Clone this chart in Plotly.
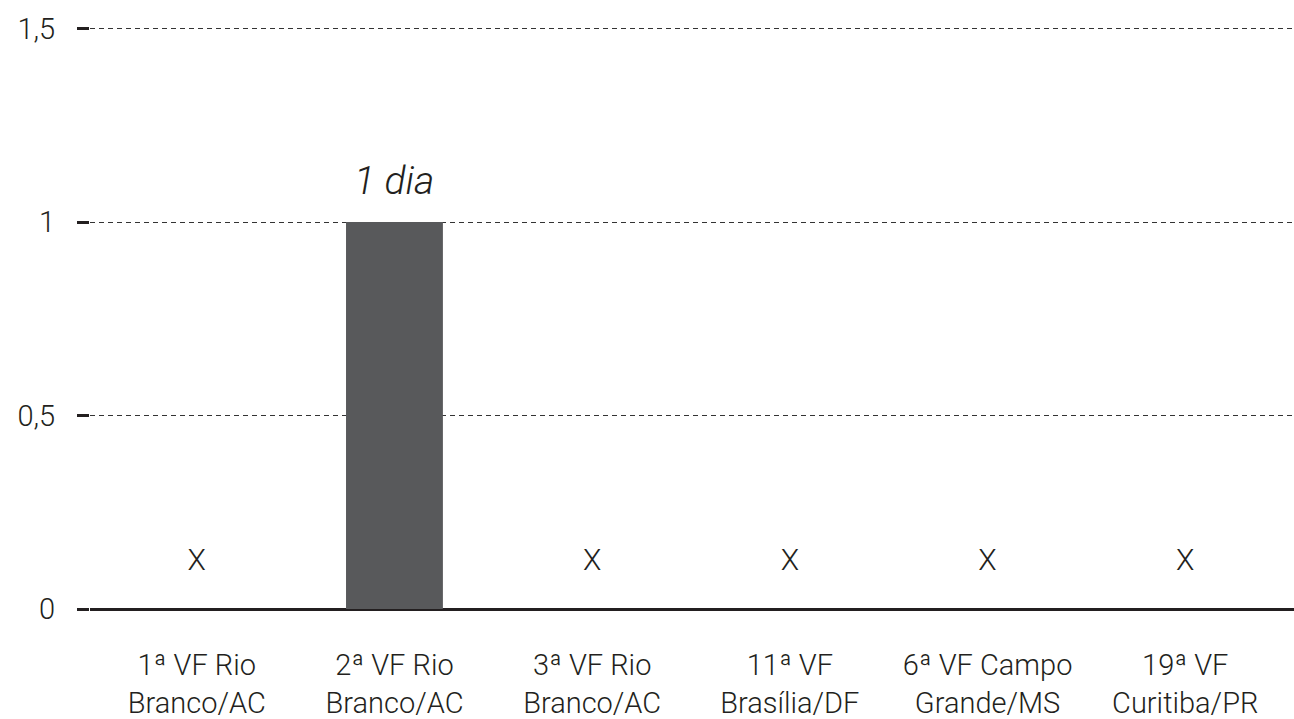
import plotly.graph_objects as go

categories = ["1ª VF Rio<br>Branco/AC", "2ª VF Rio<br>Branco/AC", "3ª VF Rio<br>Branco/AC",
              "11ª VF<br>Brasília/DF", "6ª VF Campo<br>Grande/MS", "19ª VF<br>Curitiba/PR"]
values = [None, 1, None, None, None, None]
bar_labels = ["", "1 dia", "", "", "", ""]
missing_mark = "X"
missing_y = 0.12
y_ticks = [0, 0.5, 1, 1.5]
y_ticktext = ["0", "0,5", "1", "1,5"]

FONT = "Roboto"
COLOR = "#231f20"
idx = list(range(len(categories)))

fig = go.Figure()
fig.add_trace(go.Bar(
    x=idx, y=[v if v is not None else 0 for v in values],
    width=0.49, marker=dict(color="#58595b", line=dict(width=0)),
    showlegend=False, hoverinfo="skip",
))
for i, v, lab in zip(idx, values, bar_labels):
    if v is not None and lab:
        fig.add_annotation(x=i, y=v, text=lab, showarrow=False, yanchor="bottom",
                           yshift=16, font=dict(family=FONT, size=39, color=COLOR,
                                                style="italic", weight=300))
mx = [i for i, v in zip(idx, values) if v is None]
fig.add_trace(go.Scatter(
    x=mx, y=[missing_y] * len(mx), mode="text", text=[missing_mark] * len(mx),
    textfont=dict(family=FONT, size=30, color=COLOR, weight=300), showlegend=False,
    hoverinfo="skip",
))

fig.update_layout(
    width=1294, height=719,
    margin=dict(l=90, r=0, t=27, b=110),
    paper_bgcolor="white", plot_bgcolor="white",
    font=dict(family=FONT, size=29, color=COLOR),
)
fig.update_xaxes(
    range=[-0.54, 5.55], tickvals=idx, ticktext=categories,
    showgrid=False, zeroline=False, showline=False, ticks="",
    tickfont=dict(family=FONT, size=29, color=COLOR, weight=300),
    ticklabelstandoff=36, automargin=False,
)
fig.update_yaxes(
    range=[0, 1.504], tickvals=y_ticks, ticktext=y_ticktext,
    showgrid=True, gridcolor="#333333", griddash="5px,4px", gridwidth=1,
    zeroline=True, zerolinecolor=COLOR, zerolinewidth=3,
    showline=False, ticks="outside", ticklen=12, tickwidth=3, tickcolor=COLOR,
    tickfont=dict(family=FONT, size=29, color=COLOR, weight=300),
    ticklabelstandoff=16, automargin=False,
)
fig.write_html("out.html", config={"displayModeBar": False},
               post_script="document.body.style.margin='0';document.body.style.overflow='hidden';")
